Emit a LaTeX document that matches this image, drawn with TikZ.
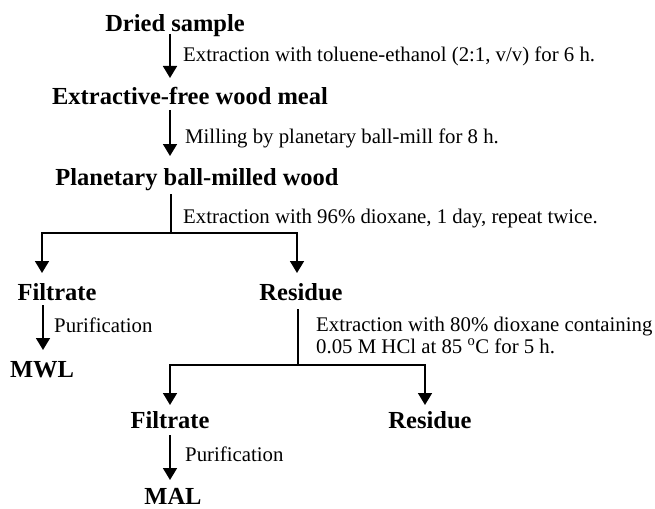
\documentclass[tikz,border=0pt]{standalone}
\usepackage{fontspec}
\setmainfont{Liberation Serif}
\usetikzlibrary{arrows.meta}
\tikzset{
  ttl/.style={inner sep=0pt, anchor=base, font=\fontsize{24.5}{26}\selectfont\bfseries},
  lbl/.style={inner sep=0pt, anchor=base west, font=\fontsize{20.8}{20}\selectfont},
  ln/.style={line width=1.6pt},
  arr/.style={ln, -{Triangle[width=14pt,length=12pt]}}
}
\begin{document}
\begin{tikzpicture}[x=1pt,y=-1pt]
\useasboundingbox (0,0) rectangle (655,508);
% titles
\node[ttl] (ds)  at (175,32)  {Dried sample};
\node[ttl] (efw) at (190,105) {Extractive-free wood meal};
\node[ttl] (pbw) at (197,185) {Planetary ball-milled wood};
\node[ttl] (f1)  at (57,300)  {Filtrate};
\node[ttl] (r1)  at (301,300) {Residue};
\node[ttl] (mwl) at (42,377)  {MWL};
\node[ttl] (f2)  at (170,428) {Filtrate};
\node[ttl] (r2)  at (430,428) {Residue};
\node[ttl] (mal) at (173,504) {MAL};
% labels
\node[lbl] (l1) at (183,62)  {Extraction with toluene-ethanol (2:1, v/v) for 6 h.};
\node[lbl] (l2) at (185,143) {Milling by planetary ball-mill for 8 h.};
\node[lbl] (l3) at (183,223) {Extraction with 96\% dioxane, 1 day, repeat twice.};
\node[lbl] (l4) at (54,332)  {Purification};
\node[lbl] (l5a) at (316,331) {Extraction with 80\% dioxane containing};
\node[lbl] (l5b) at (316,353) {0.05 M HCl at 85 \textsuperscript{o}C for 5 h.};
\node[lbl] (l6) at (185,461) {Purification};
% coordinates
\coordinate (a1s) at (170,34);  \coordinate (a1e) at (170,78);
\coordinate (a2s) at (170,110); \coordinate (a2e) at (170,156);
\coordinate (b1s) at (171,194); \coordinate (b1j) at (171,233);
\coordinate (b1l) at (42,233);  \coordinate (b1le) at (42,273);
\coordinate (b1r) at (297,233); \coordinate (b1re) at (297,273);
\coordinate (a3s) at (43,305);  \coordinate (a3e) at (43,350);
\coordinate (b2s) at (298,309); \coordinate (b2j) at (298,365);
\coordinate (b2l) at (170,365); \coordinate (b2le) at (170,405);
\coordinate (b2r) at (425,365); \coordinate (b2re) at (425,405);
\coordinate (a4s) at (170,435); \coordinate (a4e) at (170,480);
% connectors
\draw[arr] (a1s) -- (a1e);
\draw[arr] (a2s) -- (a2e);
\draw[ln] (b1s) -- (b1j);
\draw[arr] (b1j) -- (b1l) -- (b1le);
\draw[arr] (b1j) -- (b1r) -- (b1re);
\draw[arr] (a3s) -- (a3e);
\draw[ln] (b2s) -- (b2j);
\draw[arr] (b2j) -- (b2l) -- (b2le);
\draw[arr] (b2j) -- (b2r) -- (b2re);
\draw[arr] (a4s) -- (a4e);
\end{tikzpicture}
\end{document}
